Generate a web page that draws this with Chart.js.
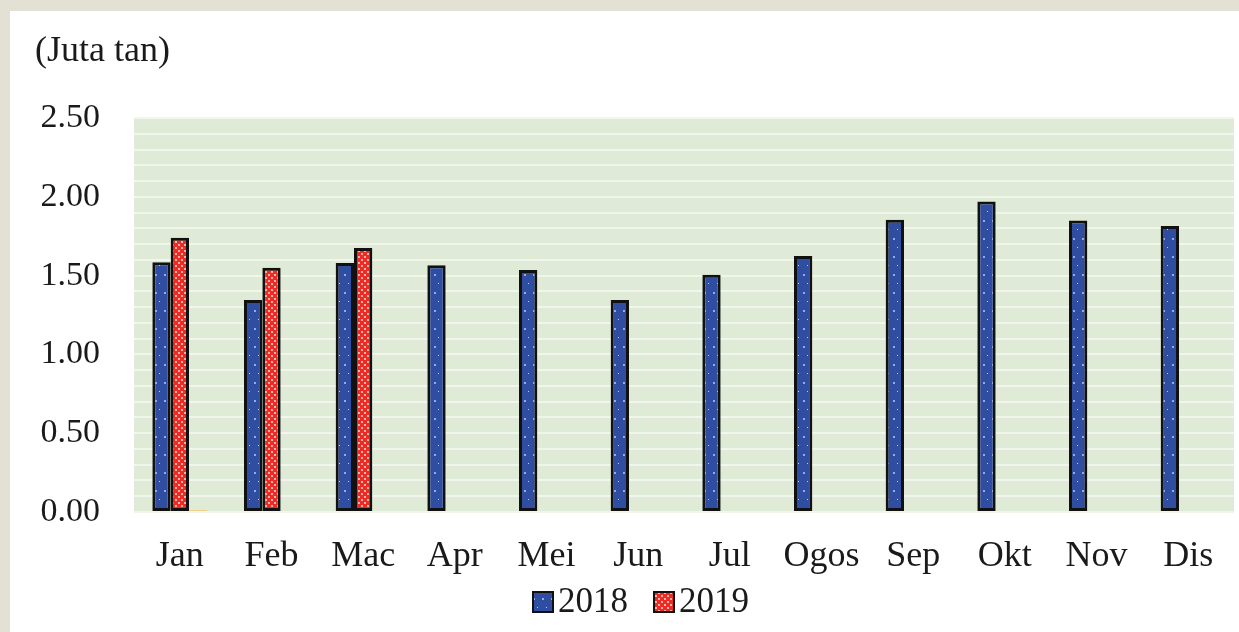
<!DOCTYPE html>
<html>
<head>
<meta charset="utf-8">
<script src="https://cdn.jsdelivr.net/npm/chart.js@4/dist/chart.umd.min.js"></script>
<style>
  html, body { margin: 0; padding: 0; background: #e3e0d4; }
  #wrap { position: absolute; left: 0; top: 0; width: 1239px; height: 632px; }
</style>
</head>
<body>
<div id="wrap"><canvas id="c" width="1239" height="632"></canvas></div>
<script>
const categories = ['Jan', 'Feb', 'Mac', 'Apr', 'Mei', 'Jun', 'Jul', 'Ogos', 'Sep', 'Okt', 'Nov', 'Dis'];
const values2018 = [1.585, 1.345, 1.58, 1.565, 1.535, 1.345, 1.505, 1.625, 1.855, 1.97, 1.85, 1.815];
const values2019 = [1.74, 1.55, 1.675, null, null, null, null, null, null, null, null, null];
const values2020 = [0.01, null, null, null, null, null, null, null, null, null, null, null];
const seriesNames = ['2018', '2019'];
const yTickLabels = ['0.00', '0.50', '1.00', '1.50', '2.00', '2.50'];
const unitLabel = '(Juta tan)';

const FONT = '"Liberation Serif", "Times New Roman", serif';

function makePattern(w, h, base, dots) {
  const pc = document.createElement('canvas');
  pc.width = w; pc.height = h;
  const g = pc.getContext('2d');
  g.fillStyle = base;
  g.fillRect(0, 0, w, h);
  dots.forEach(d => { g.fillStyle = d[4]; g.fillRect(d[0], d[1], d[2], d[3]); });
  return document.getElementById('c').getContext('2d').createPattern(pc, 'repeat');
}
const bluePat = makePattern(9, 18, '#2f4ea2', [[2, 4, 2, 2, '#9aaae0'], [6, 13, 1, 1, '#c8d0f0']]);
const redPat = makePattern(6, 6, '#ee2a24', [[1, 1, 2, 2, '#f8b4aa'], [4, 4, 2, 2, '#f8b4aa']]);

const bgPlugin = {
  id: 'bg',
  beforeDraw(chart) {
    const ctx = chart.ctx;
    const a = chart.chartArea;
    ctx.save();
    ctx.fillStyle = '#e3e0d4';
    ctx.fillRect(0, 0, chart.width, chart.height);
    ctx.fillStyle = '#ffffff';
    ctx.fillRect(10, 11, chart.width - 10, chart.height - 11);
    ctx.fillStyle = '#e0ebd7';
    ctx.fillRect(a.left, a.top, a.right - a.left, a.bottom - a.top);
    ctx.restore();
  },
  afterDraw(chart) {
    const ctx = chart.ctx;
    ctx.save();
    ctx.fillStyle = '#1a1a1a';
    ctx.font = '36px ' + FONT;
    ctx.textBaseline = 'middle';
    ctx.textAlign = 'left';
    ctx.fillText(unitLabel, 35, 52);
    ctx.font = '35px ' + FONT;
    const items = [
      { x: 533, pat: bluePat, label: seriesNames[0] },
      { x: 654, pat: redPat, label: seriesNames[1] }
    ];
    items.forEach(it => {
      ctx.fillStyle = it.pat;
      ctx.fillRect(it.x, 592, 20, 20);
      ctx.strokeStyle = '#111';
      ctx.lineWidth = 2;
      ctx.strokeRect(it.x, 592, 20, 20);
      ctx.fillStyle = '#1a1a1a';
      ctx.fillText(it.label, it.x + 25, 603);
    });
    ctx.restore();
  }
};

new Chart(document.getElementById('c'), {
  type: 'bar',
  data: {
    labels: categories,
    datasets: [
      { label: seriesNames[0], data: values2018, backgroundColor: bluePat, borderColor: '#111', borderWidth: 3, borderSkipped: false },
      { label: seriesNames[1], data: values2019, backgroundColor: redPat, borderColor: '#111', borderWidth: 3, borderSkipped: false },
      { label: '', data: values2020, backgroundColor: '#f2c050', borderWidth: 0 }
    ]
  },
  options: {
    responsive: false,
    animation: false,
    layout: { padding: { left: 10, top: 118, right: 5, bottom: 0 } },
    datasets: { bar: { categoryPercentage: 0.6, barPercentage: 1.0 } },
    plugins: { legend: { display: false }, tooltip: { enabled: false }, title: { display: false } },
    scales: {
      x: {
        grid: { display: false },
        border: { display: false },
        ticks: { color: '#1a1a1a', font: { family: FONT, size: 36 }, padding: 15, maxRotation: 0, autoSkip: false },
        afterFit(s) { s.height = 120; }
      },
      y: {
        min: 0, max: 2.5,
        afterBuildTicks(s) {
          const t = [];
          for (let i = 0; i <= 25; i++) t.push({ value: i / 10 });
          s.ticks = t;
        },
        grid: { color: '#f1f5ec', lineWidth: 2, drawTicks: false },
        border: { display: false },
        ticks: {
          autoSkip: false,
          color: '#1a1a1a',
          font: { family: FONT, size: 34 },
          padding: 34,
          callback(v) {
            const i = Math.round(v * 10);
            return i % 5 === 0 ? yTickLabels[i / 5] : '';
          }
        },
        afterFit(s) { s.width = 124; }
      }
    }
  },
  plugins: [bgPlugin]
});
</script>
</body>
</html>
